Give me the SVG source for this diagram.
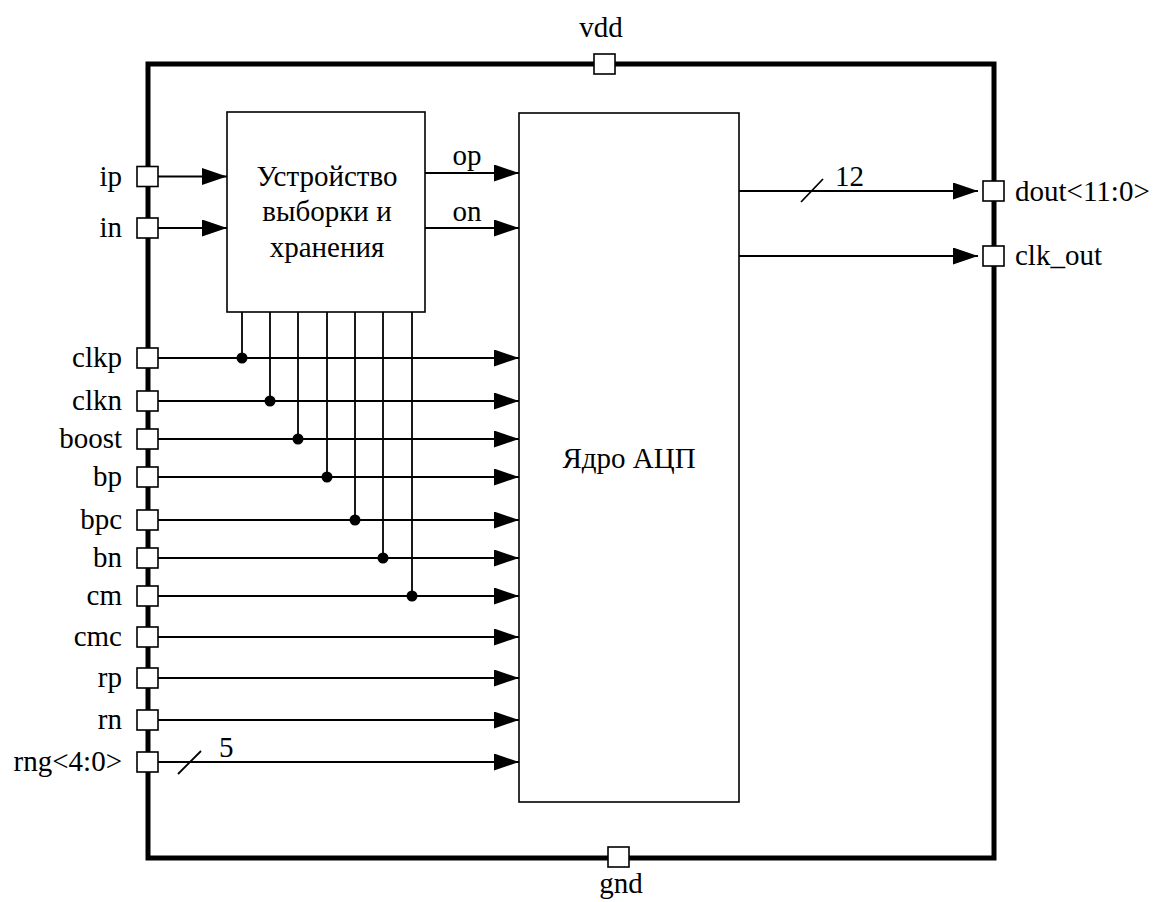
<svg xmlns="http://www.w3.org/2000/svg" width="1158" height="902" viewBox="0 0 1158 902">
<style>
text{font-family:'Liberation Serif','Times New Roman',serif;font-size:29px;fill:#000}
.lbl{text-anchor:end}
.mid{text-anchor:middle}
.frame{fill:none;stroke:#000;stroke-width:5}
.box{fill:#fff;stroke:#000;stroke-width:1.6}
.port{fill:#fff;stroke:#000;stroke-width:1.6}
.w{fill:none;stroke:#000;stroke-width:1.8}
.wa{fill:none;stroke:#000;stroke-width:1.8;marker-end:url(#arr)}
.dot{fill:#000}
</style>
<defs>
<marker id="arr" markerUnits="userSpaceOnUse" markerWidth="25" markerHeight="17" refX="25" refY="8.5" orient="auto">
<path d="M0,0 L25,8.5 L0,17 z" fill="#000"/>
</marker>
</defs>
<rect class="frame" x="148" y="64" width="846" height="794"/>
<g id="connectors">
<line class="wa" x1="158" y1="176.5" x2="227" y2="176.5"/>
<line class="wa" x1="158" y1="228" x2="227" y2="228"/>
<line class="wa" x1="425" y1="173" x2="519" y2="173"/>
<line class="wa" x1="425" y1="228" x2="519" y2="228"/>
<line class="wa" x1="158" y1="358" x2="519" y2="358"/>
<line class="wa" x1="158" y1="401" x2="519" y2="401"/>
<line class="wa" x1="158" y1="439" x2="519" y2="439"/>
<line class="wa" x1="158" y1="477" x2="519" y2="477"/>
<line class="wa" x1="158" y1="520" x2="519" y2="520"/>
<line class="wa" x1="158" y1="558" x2="519" y2="558"/>
<line class="wa" x1="158" y1="596" x2="519" y2="596"/>
<line class="wa" x1="158" y1="637" x2="519" y2="637"/>
<line class="wa" x1="158" y1="678" x2="519" y2="678"/>
<line class="wa" x1="158" y1="720" x2="519" y2="720"/>
<line class="wa" x1="158" y1="762" x2="519" y2="762"/>
<line class="w" x1="242" y1="312" x2="242" y2="358"/>
<line class="w" x1="270" y1="312" x2="270" y2="401"/>
<line class="w" x1="298" y1="312" x2="298" y2="439"/>
<line class="w" x1="327" y1="312" x2="327" y2="477"/>
<line class="w" x1="355" y1="312" x2="355" y2="520"/>
<line class="w" x1="383" y1="312" x2="383" y2="558"/>
<line class="w" x1="412" y1="312" x2="412" y2="596"/>
<circle class="dot" cx="242" cy="358" r="5.5"/>
<circle class="dot" cx="270" cy="401" r="5.5"/>
<circle class="dot" cx="298" cy="439" r="5.5"/>
<circle class="dot" cx="327" cy="477" r="5.5"/>
<circle class="dot" cx="355" cy="520" r="5.5"/>
<circle class="dot" cx="383" cy="558" r="5.5"/>
<circle class="dot" cx="412" cy="596" r="5.5"/>
<line class="wa" x1="739" y1="191" x2="978" y2="191"/>
<line class="wa" x1="739" y1="256" x2="978" y2="256"/>
<line class="w" x1="801" y1="202" x2="823" y2="179"/>
<line class="w" x1="178" y1="774" x2="201" y2="751"/>
<text x="835" y="186">12</text>
<text x="219" y="757">5</text>
<text class="mid" x="467" y="165">op</text>
<text class="mid" x="467" y="221">on</text>
</g>
<g id="sh">
<rect class="box" x="227" y="112" width="198" height="200"/>
<text class="mid" x="327" y="186">Устройство</text>
<text class="mid" x="327" y="221">выборки и</text>
<text class="mid" x="327" y="257">хранения</text>
</g>
<g id="core">
<rect class="box" x="519" y="113" width="220" height="689"/>
<text class="mid" x="629" y="468">Ядро АЦП</text>
</g>
<g id="port-vdd"><rect class="port" x="594" y="54" width="21" height="20"/><text class="mid" x="601" y="37">vdd</text></g>
<g id="port-gnd"><rect class="port" x="608" y="847" width="21" height="20"/><text class="mid" x="621" y="893">gnd</text></g>
<g id="port-ip"><rect class="port" x="137" y="166.5" width="21" height="20"/><text class="lbl" x="122" y="185.5">ip</text></g>
<g id="port-in"><rect class="port" x="137" y="218" width="21" height="20"/><text class="lbl" x="122" y="237">in</text></g>
<g id="port-clkp"><rect class="port" x="137" y="348" width="21" height="20"/><text class="lbl" x="122" y="367">clkp</text></g>
<g id="port-clkn"><rect class="port" x="137" y="391" width="21" height="20"/><text class="lbl" x="122" y="410">clkn</text></g>
<g id="port-boost"><rect class="port" x="137" y="429" width="21" height="20"/><text class="lbl" x="122" y="448">boost</text></g>
<g id="port-bp"><rect class="port" x="137" y="467" width="21" height="20"/><text class="lbl" x="122" y="486">bp</text></g>
<g id="port-bpc"><rect class="port" x="137" y="510" width="21" height="20"/><text class="lbl" x="122" y="529">bpc</text></g>
<g id="port-bn"><rect class="port" x="137" y="548" width="21" height="20"/><text class="lbl" x="122" y="567">bn</text></g>
<g id="port-cm"><rect class="port" x="137" y="586" width="21" height="20"/><text class="lbl" x="122" y="605">cm</text></g>
<g id="port-cmc"><rect class="port" x="137" y="627" width="21" height="20"/><text class="lbl" x="122" y="646">cmc</text></g>
<g id="port-rp"><rect class="port" x="137" y="668" width="21" height="20"/><text class="lbl" x="122" y="687">rp</text></g>
<g id="port-rn"><rect class="port" x="137" y="710" width="21" height="20"/><text class="lbl" x="122" y="729">rn</text></g>
<g id="port-rng"><rect class="port" x="137" y="752" width="21" height="20"/><text class="lbl" x="122" y="771">rng&lt;4:0&gt;</text></g>
<g id="port-dout"><rect class="port" x="983" y="181" width="21" height="20"/><text x="1015" y="201">dout&lt;11:0&gt;</text></g>
<g id="port-clkout"><rect class="port" x="983" y="246" width="21" height="20"/><text x="1015" y="265">clk_out</text></g>
</svg>
